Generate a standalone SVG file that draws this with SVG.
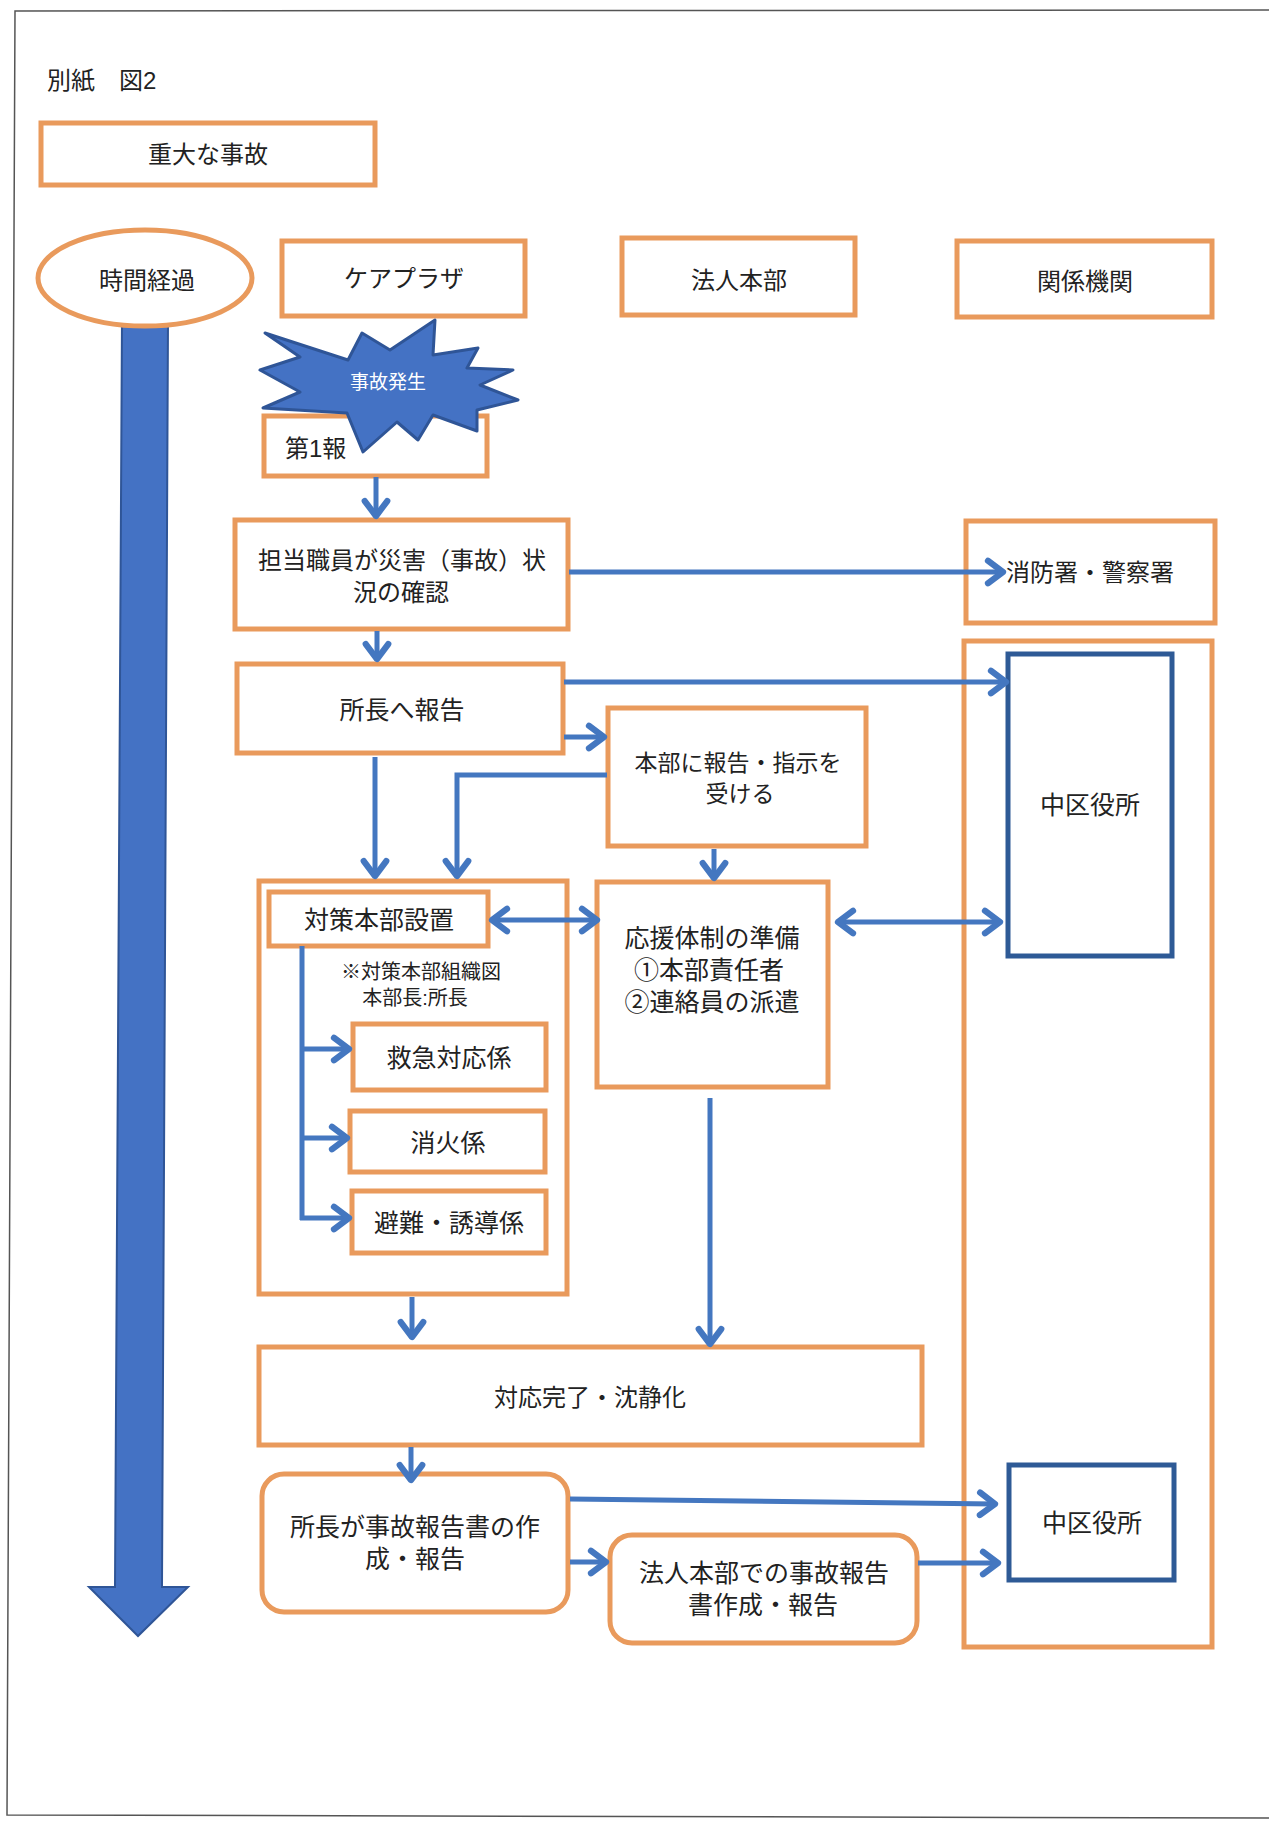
<svg xmlns="http://www.w3.org/2000/svg" width="1269" height="1826" viewBox="0 0 1269 1826">
<style>
.box{fill:#fff;stroke:#e99a5c;stroke-width:5}
.dbox{fill:#fff;stroke:#2e5a96;stroke-width:5}
.t{font-family:"Liberation Sans","Noto Sans CJK JP",sans-serif;fill:#222;text-anchor:middle;dominant-baseline:central}
.c{fill:none;stroke:#4477c0;stroke-width:5}
</style>
<defs>
<marker id="ah" markerUnits="userSpaceOnUse" markerWidth="30" markerHeight="30" viewBox="-16 -12 20 24" refX="0" refY="0" orient="auto-start-reverse">
<path d="M-12,-9 L0,0 L-12,9" fill="none" stroke="#4477c0" stroke-width="5" stroke-linecap="round" stroke-linejoin="round"/>
</marker>
</defs>
<rect x="0" y="0" width="1269" height="1826" fill="#fff"/>
<path d="M1269,10 L15,11 L7,1815 L1269,1818" fill="none" stroke="#555" stroke-width="1.5"/>

<text class="t" x="47" y="80" style="text-anchor:start;font-size:24px">別紙　図2</text>

<g id="title"><rect class="box" x="41" y="123" width="334" height="62"/><text class="t" x="208" y="154" font-size="24">重大な事故</text></g>

<g id="timebar">
<polygon points="122,320 168,320 162,1587 188,1587 138,1636 89,1587 115,1587" fill="#4472c4" stroke="#2f5597" stroke-width="2"/>
</g>
<g id="time"><ellipse cx="145" cy="278" rx="107" ry="48" fill="#fff" stroke="#e99a5c" stroke-width="5"/><text class="t" x="147" y="280" font-size="24">時間経過</text></g>

<g id="h-careplaza"><rect class="box" x="282" y="241" width="243" height="75"/><text class="t" x="404" y="278" font-size="24">ケアプラザ</text></g>
<g id="h-honbu"><rect class="box" x="622" y="238" width="233" height="77"/><text class="t" x="739" y="280" font-size="24">法人本部</text></g>
<g id="h-kankei"><rect class="box" x="957" y="241" width="255" height="76"/><text class="t" x="1085" y="281" font-size="24">関係機関</text></g>

<g id="n-dai1"><rect class="box" x="264" y="416" width="223" height="60"/><text class="t" x="285" y="448" font-size="24" style="text-anchor:start">第1報</text></g>
<g id="n-jiko">
<polygon points="265,333 348,360 362,333 390,350 435,320 433,355 478,348 467,368 513,370 480,385 518,400 477,410 477,431 433,415 418,440 397,422 363,452 347,413 263,408 300,392 260,370 300,357" fill="#4472c4" stroke="#2f5597" stroke-width="3" stroke-linejoin="round"/>
<text class="t" x="388" y="382" font-size="19" style="fill:#fff">事故発生</text>
</g>

<g id="n-tanto"><rect class="box" x="235" y="520" width="333" height="109"/>
<text class="t" x="402" y="560" font-size="24">担当職員が災害（事故）状</text>
<text class="t" x="401" y="592" font-size="24">況の確認</text></g>

<g id="n-shocho"><rect class="box" x="237" y="664" width="326" height="89"/><text class="t" x="402" y="710" font-size="25">所長へ報告</text></g>

<g id="n-shobo"><rect class="box" x="966" y="521" width="249" height="102"/><text class="t" x="1006" y="572" font-size="24" style="text-anchor:start">消防署・警察署</text></g>

<g id="n-kankei-col"><rect class="box" x="964" y="641" width="248" height="1006"/></g>
<g id="n-naka1"><rect class="dbox" x="1008" y="654" width="164" height="302"/><text class="t" x="1090" y="805" font-size="25">中区役所</text></g>

<g id="n-honbuhoukoku"><rect class="box" x="608" y="708" width="258" height="138"/>
<text class="t" x="738" y="763" font-size="23">本部に報告・指示を</text>
<text class="t" x="740" y="794" font-size="23">受ける</text></g>

<g id="n-taisaku-outer"><rect class="box" x="259" y="881" width="308" height="413"/></g>
<g id="n-taisaku"><rect class="box" x="269" y="892" width="219" height="54"/><text class="t" x="379" y="920" font-size="25">対策本部設置</text></g>
<text class="t" x="421" y="972" font-size="20">※対策本部組織図</text>
<text class="t" x="415" y="998" font-size="20">本部長:所長</text>
<g id="n-kyukyu"><rect class="box" x="353" y="1024" width="193" height="66"/><text class="t" x="449" y="1058" font-size="25">救急対応係</text></g>
<g id="n-shoka"><rect class="box" x="350" y="1111" width="195" height="61"/><text class="t" x="448" y="1143" font-size="25">消火係</text></g>
<g id="n-hinan"><rect class="box" x="352" y="1191" width="194" height="62"/><text class="t" x="449" y="1223" font-size="25">避難・誘導係</text></g>

<g id="n-ouen"><rect class="box" x="597" y="882" width="231" height="205"/>
<text class="t" x="712" y="938" font-size="25">応援体制の準備</text>
<text class="t" x="709" y="970" font-size="25">①本部責任者</text>
<text class="t" x="712" y="1002" font-size="25">②連絡員の派遣</text></g>

<g id="n-kanryo"><rect class="box" x="259" y="1347" width="663" height="98"/><text class="t" x="590" y="1397" font-size="24">対応完了・沈静化</text></g>

<g id="n-shochohoukoku"><rect class="box" x="262" y="1474" width="306" height="138" rx="22"/>
<text class="t" x="415" y="1527" font-size="25">所長が事故報告書の作</text>
<text class="t" x="415" y="1559" font-size="25">成・報告</text></g>

<g id="n-houjin"><rect class="box" x="610" y="1535" width="307" height="108" rx="22"/>
<text class="t" x="764" y="1573" font-size="25">法人本部での事故報告</text>
<text class="t" x="763" y="1605" font-size="25">書作成・報告</text></g>

<g id="n-naka2"><rect class="dbox" x="1009" y="1465" width="165" height="115"/><text class="t" x="1092" y="1523" font-size="25">中区役所</text></g>

<g id="connectors">
<line class="c" x1="376" y1="477" x2="376" y2="516" marker-end="url(#ah)"/>
<line class="c" x1="377" y1="631" x2="377" y2="659" marker-end="url(#ah)"/>
<line class="c" x1="569" y1="572" x2="1003" y2="572" marker-end="url(#ah)"/>
<line class="c" x1="564" y1="682" x2="1006" y2="682" marker-end="url(#ah)"/>
<line class="c" x1="564" y1="737" x2="604" y2="737" marker-end="url(#ah)"/>
<path class="c" d="M607,775 L457,775 L457,876" marker-end="url(#ah)"/>
<line class="c" x1="375" y1="757" x2="375" y2="876" marker-end="url(#ah)"/>
<line class="c" x1="714" y1="849" x2="714" y2="878" marker-end="url(#ah)"/>
<line class="c" x1="492" y1="920" x2="597" y2="920" marker-start="url(#ah)" marker-end="url(#ah)"/>
<line class="c" x1="838" y1="922" x2="1000" y2="922" marker-start="url(#ah)" marker-end="url(#ah)"/>
<line class="c" x1="302" y1="946" x2="302" y2="1220"/>
<line class="c" x1="300" y1="1049" x2="349" y2="1049" marker-end="url(#ah)"/>
<line class="c" x1="300" y1="1138" x2="347" y2="1138" marker-end="url(#ah)"/>
<line class="c" x1="300" y1="1218" x2="349" y2="1218" marker-end="url(#ah)"/>
<line class="c" x1="412" y1="1297" x2="412" y2="1337" marker-end="url(#ah)"/>
<line class="c" x1="710" y1="1098" x2="710" y2="1344" marker-end="url(#ah)"/>
<line class="c" x1="411" y1="1447" x2="411" y2="1480" marker-end="url(#ah)"/>
<line class="c" x1="570" y1="1499" x2="995" y2="1504" marker-end="url(#ah)"/>
<line class="c" x1="570" y1="1562" x2="606" y2="1562" marker-end="url(#ah)"/>
<line class="c" x1="918" y1="1563" x2="998" y2="1563" marker-end="url(#ah)"/>
</g>
</svg>
